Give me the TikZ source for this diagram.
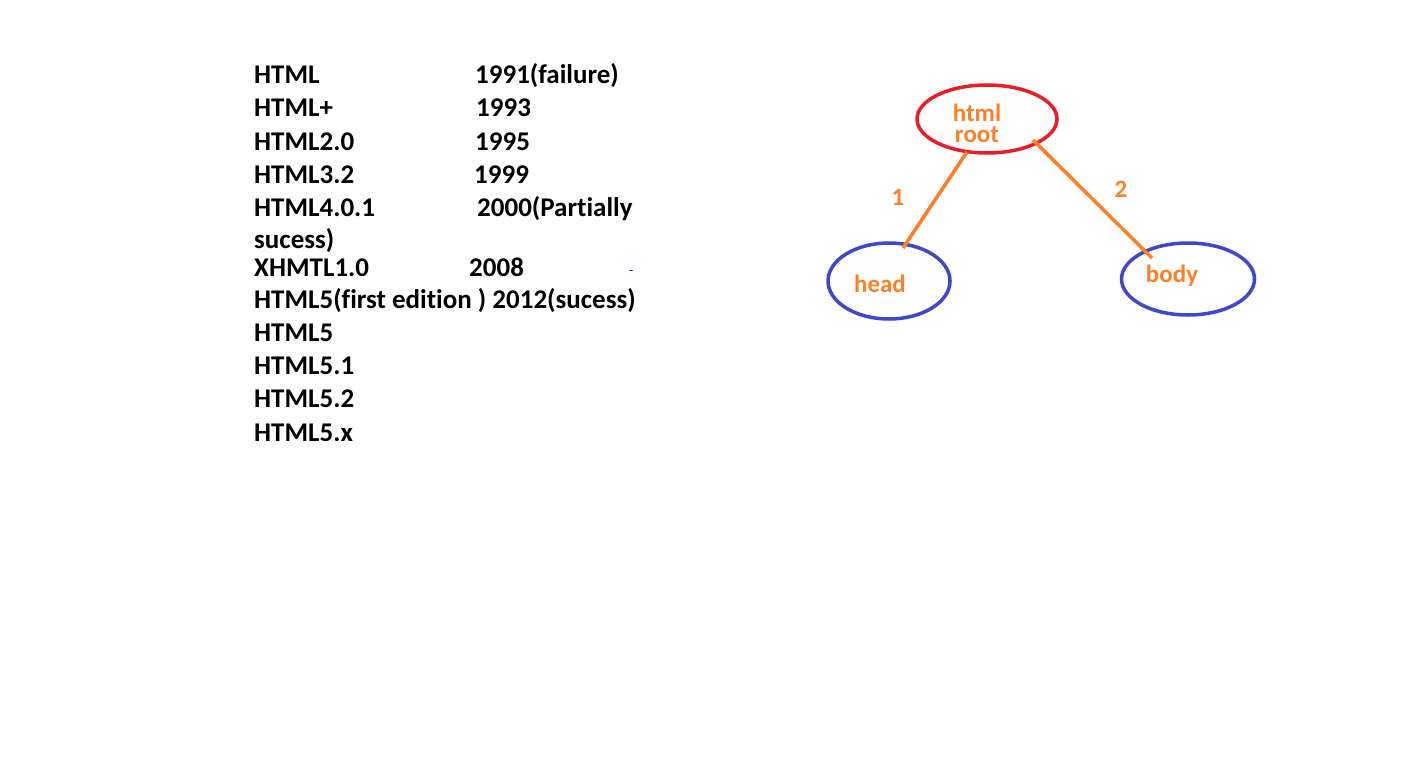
\documentclass[tikz,border=0pt]{standalone}
\usepackage{fontspec}
\setmainfont{Carlito}[Ligatures=NoCommon]
\definecolor{rootred}{RGB}{237,28,36}
\definecolor{kidblue}{RGB}{63,72,204}
\definecolor{lblorange}{RGB}{255,127,39}
\begin{document}
\begin{tikzpicture}[x=1pt,y=-1pt,
  listtxt/.style={anchor=base west,inner sep=0pt,font=\fontsize{27}{31}\selectfont\bfseries},
  treetxt/.style={inner sep=0pt,align=center,text=lblorange,font=\fontsize{25}{21}\selectfont\bfseries},
  ell/.style={ellipse,draw,line width=3.5pt,inner sep=0pt},
  edge/.style={draw=lblorange,line width=3.5pt}]
\usetikzlibrary{shapes.geometric}
\fill[white] (0,0) rectangle (1412,765);
\useasboundingbox (0,0) rectangle (1412,765);
% list
\node[listtxt] (l1)  at (254,84)  {HTML};
\node[listtxt] (y1)  at (475,84)  {1991(failure)};
\node[listtxt] (l2)  at (254,117) {HTML+};
\node[listtxt] (y2)  at (476,117) {1993};
\node[listtxt] (l3)  at (254,150) {HTML2.0};
\node[listtxt] (y3)  at (475,150) {1995};
\node[listtxt] (l4)  at (254,183) {HTML3.2};
\node[listtxt] (y4)  at (474,183) {1999};
\node[listtxt] (l5)  at (254,216) {HTML4.0.1};
\node[listtxt] (y5)  at (477,216) {2000(Partially};
\node[listtxt] (l5b) at (254,248) {sucess)};
\node[listtxt] (l6)  at (254,276) {XHMTL1.0};
\node[listtxt] (y6)  at (469,276) {2008};
\node[listtxt] (l7)  at (254,308) {HTML5(first edition ) 2012(sucess)};
\node[listtxt] (l8)  at (254,341) {HTML5};
\node[listtxt] (l9)  at (254,374) {HTML5.1};
\node[listtxt] (l10) at (254,407) {HTML5.2};
\node[listtxt] (l11) at (254,441) {HTML5.x};
\coordinate (dashA) at (629,270);
\coordinate (dashB) at (633,270);
\draw[kidblue,line width=1pt] (dashA) -- (dashB);
% tree
\node[ell,draw=rootred,minimum width=140pt,minimum height=68pt] (root) at (987,119) {};
\node[ell,draw=kidblue,minimum width=122pt,minimum height=76pt] (head) at (889,281) {};
\node[ell,draw=kidblue,minimum width=133pt,minimum height=72pt] (body) at (1188,279) {};
\node[treetxt] (roottxt) at (977,123) {html\\root};
\node[treetxt] (headtxt) at (880,284) {head};
\node[treetxt] (bodytxt) at (1172,276) {body};
\draw[edge] ([xshift=-20pt,yshift=-33pt]root.center) -- ([xshift=14pt,yshift=33pt]head.center);
\draw[edge] ([xshift=46pt,yshift=-21pt]root.center) -- ([xshift=-36pt,yshift=21pt]body.center);
\node[treetxt] (e1) at (898,197) {1};
\node[treetxt] (e2) at (1121,189) {2};
\end{tikzpicture}
\end{document}
